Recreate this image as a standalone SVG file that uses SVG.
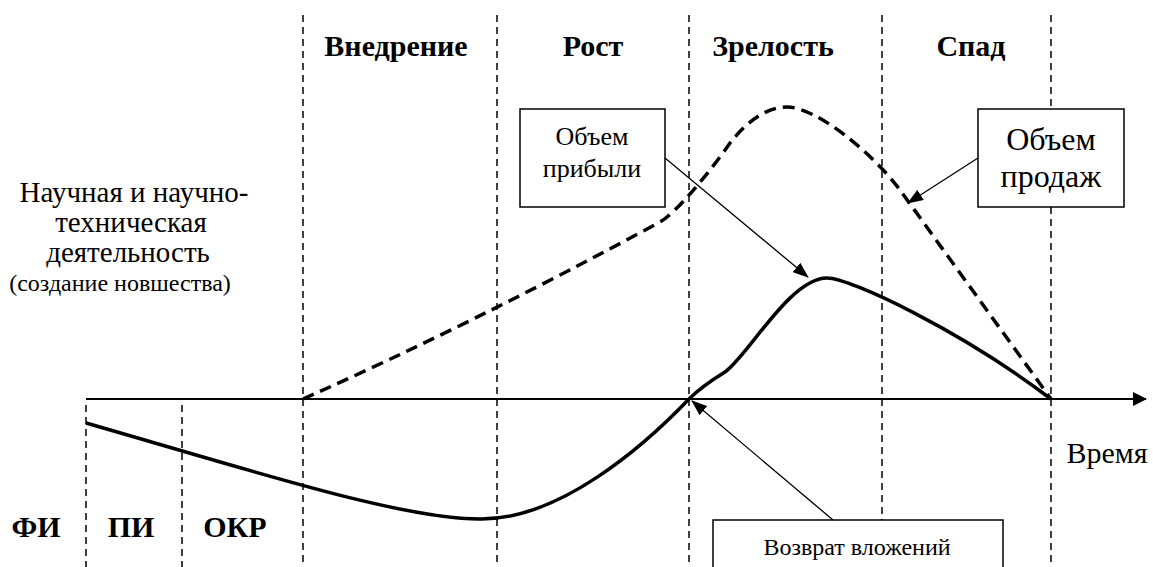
<svg xmlns="http://www.w3.org/2000/svg" width="1153" height="567" viewBox="0 0 1153 567">
  <style>
    .grid { stroke: #000; stroke-width: 1.5; stroke-dasharray: 7 5; fill: none; }
    .box { fill: #fff; stroke: #000; stroke-width: 1.5; }
    .thin { stroke: #000; stroke-width: 1.3; fill: none; }
    .curve { stroke: #000; stroke-width: 3.5; fill: none; stroke-linejoin: round; }
  </style>
  <defs>
    <marker id="arr" markerUnits="userSpaceOnUse" viewBox="0 0 16 12" refX="15" refY="6" markerWidth="16" markerHeight="12" orient="auto">
      <path d="M0,0 L16,6 L0,12 z" fill="#000"/>
    </marker>
    <marker id="axarr" markerUnits="userSpaceOnUse" viewBox="0 0 14 14" refX="13" refY="7" markerWidth="14" markerHeight="14" orient="auto">
      <path d="M0,0 L14,7 L0,14 z" fill="#000"/>
    </marker>
  </defs>
  <rect width="1153" height="567" fill="#fff"/>

  <g id="grid-lines">
    <line class="grid" x1="303" y1="15" x2="303" y2="567"/>
    <line class="grid" x1="497" y1="15" x2="497" y2="567"/>
    <line class="grid" x1="689" y1="15" x2="689" y2="567"/>
    <line class="grid" x1="882" y1="15" x2="882" y2="567"/>
    <line class="grid" x1="1051" y1="15" x2="1051" y2="567"/>
    <line class="grid" x1="86" y1="405" x2="86" y2="567"/>
    <line class="grid" x1="182" y1="405" x2="182" y2="567"/>
  </g>

  <g id="stage-labels" font-family="Liberation Serif, serif" font-weight="bold" font-size="30" text-anchor="middle" fill="#000">
    <text x="396" y="56">Внедрение</text>
    <text x="593" y="56">Рост</text>
    <text x="773" y="56">Зрелость</text>
    <text x="971" y="56">Спад</text>
    <text x="36" y="537">ФИ</text>
    <text x="131" y="537">ПИ</text>
    <text x="235" y="537">ОКР</text>
  </g>

  <g id="science-label" font-family="Liberation Serif, serif" text-anchor="middle" fill="#000">
    <text font-size="29" x="134" y="202">Научная и научно-</text>
    <text font-size="29" x="131" y="232">техническая</text>
    <text font-size="29" x="128" y="262">деятельность</text>
    <text font-size="24" x="120" y="291">(создание новшества)</text>
  </g>

  <g id="time-label" font-family="Liberation Serif, serif" text-anchor="middle" fill="#000">
    <text font-size="30" x="1107" y="463">Время</text>
  </g>

  <g id="connectors">
    <line id="time-axis" x1="86" y1="399" x2="1146" y2="399" stroke="#000" stroke-width="2.2" marker-end="url(#axarr)"/>
    <path id="sales-curve" class="curve" stroke-dasharray="12 7" d="M303,399 Q470,325 660,222 C675,214 710,172 730,143 C745,124 765,107 787,107 C815,107 870,150 900,190 L1051,399"/>
    <path id="profit-curve" class="curve" d="M86,423 C250,470 400,519 480,519 C560,520 645,445 689,399 C700,388 712,380 725,372 C748,356 790,278 827,278 C850,278 960,330 1051,399"/>
  </g>

  <g id="box-profit" font-family="Liberation Serif, serif" text-anchor="middle" fill="#000">
    <rect class="box" x="520" y="109" width="145" height="98"/>
    <text font-size="26" x="592" y="145">Объем</text>
    <text font-size="26" x="592" y="177">прибыли</text>
  </g>

  <g id="box-sales" font-family="Liberation Serif, serif" text-anchor="middle" fill="#000">
    <rect class="box" x="978" y="109" width="146" height="98"/>
    <text font-size="32" x="1051" y="150">Объем</text>
    <text font-size="32" x="1051" y="187">продаж</text>
  </g>

  <g id="box-return" font-family="Liberation Serif, serif" text-anchor="middle" fill="#000">
    <rect class="box" x="713" y="520" width="290" height="70"/>
    <text font-size="24" x="857" y="555">Возврат вложений</text>
  </g>

  <g id="pointer-arrows">
    <line class="thin" x1="665" y1="158" x2="808" y2="277" marker-end="url(#arr)"/>
    <line class="thin" x1="978" y1="158" x2="908" y2="203" marker-end="url(#arr)"/>
    <line class="thin" x1="833" y1="520" x2="692" y2="401" marker-end="url(#arr)"/>
  </g>
</svg>
